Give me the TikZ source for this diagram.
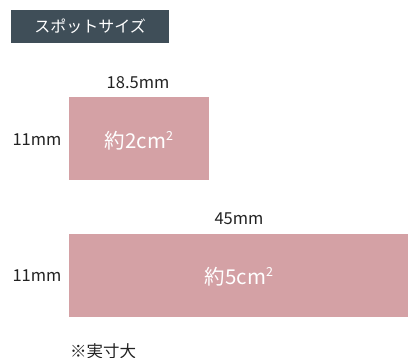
\documentclass[tikz,border=0pt]{standalone}
\usepackage{fontspec}
\setmainfont{Noto Sans CJK JP}
\definecolor{hdr}{HTML}{3F4E58}
\definecolor{spot}{HTML}{D4A1A5}
\definecolor{txt}{HTML}{222222}
\newcommand{\sqsup}{\raisebox{0.42em}{\fontsize{12.5}{12.5}\selectfont 2}}
\begin{document}
\begin{tikzpicture}[x=1pt,y=-1pt,
  spotbox/.style={fill=spot,draw=none},
  dimlabel/.style={text=txt,font=\fontsize{16.5}{18}\selectfont,inner sep=0pt},
  arealabel/.style={text=white,font=\fontsize{20.5}{22}\selectfont,inner sep=0pt}]
\useasboundingbox[fill=white] (0,0) rectangle (408,358);
\node[fill=hdr,minimum width=158pt,minimum height=33pt,inner sep=0pt,anchor=north west,
  text=white,font=\fontsize{16}{17}\selectfont] (hdr) at (11,10) {スポットサイズ};
\node[spotbox,minimum width=140pt,minimum height=83pt,inner sep=0pt,anchor=north west] (r1) at (69,97) {};
\node[arealabel] (a1) at (139,141) {約2cm\sqsup};
\node[dimlabel] (w1) at (138,83) {18.5mm};
\node[dimlabel] (h1) at (37,140) {11mm};
\node[spotbox,minimum width=339pt,minimum height=83pt,inner sep=0pt,anchor=north west] (r2) at (69,234) {};
\node[arealabel] (a2) at (239,277) {約5cm\sqsup};
\node[dimlabel] (w2) at (239,219) {45mm};
\node[dimlabel] (h2) at (37,276) {11mm};
\node[dimlabel,anchor=west] (note) at (70,351) {※実寸大};
\end{tikzpicture}
\end{document}
